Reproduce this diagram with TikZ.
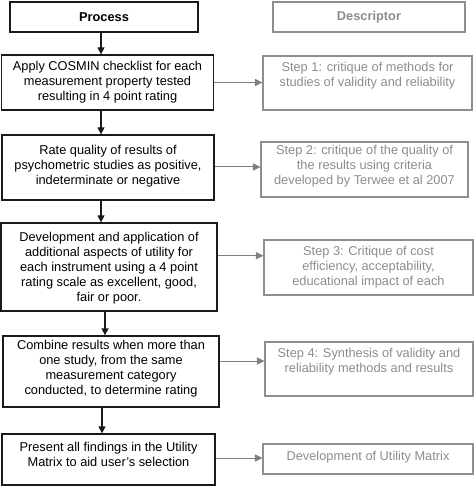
\documentclass[tikz,border=0pt]{standalone}
\usepackage{fontspec}
\setmainfont{Liberation Sans}
\usetikzlibrary{arrows.meta,calc}
\definecolor{boxblack}{HTML}{1A1A1A}
\definecolor{boxgray}{HTML}{8E8E8E}
\definecolor{textgray}{HTML}{8C8C8C}
\definecolor{arrowgray}{HTML}{7F7F7F}
\begin{document}
\begin{tikzpicture}[x=1pt,y=-1pt,
  lbox/.style={draw=boxblack,line width=1.3pt,rectangle,inner sep=0pt},
  rbox/.style={draw=boxgray,line width=1.1pt,rectangle,inner sep=0pt},
  ltext/.style={align=center,inner sep=0pt,text=black,font=\fontsize{12.8}{15}\selectfont},
  rtext/.style={align=center,inner sep=0pt,text=textgray,font=\fontsize{12.8}{15}\selectfont},
  varrow/.style={draw=boxblack,line width=1.3pt,-{Triangle[length=7pt,width=7pt]}},
  harrow/.style={draw=arrowgray,line width=1pt,-{Triangle[length=7.5pt,width=7pt]}}]
\useasboundingbox (0,0) rectangle (474,486);
% left column boxes
\node[lbox,minimum width=188pt,minimum height=30pt] (P) at (104,17) {};
\node[lbox,minimum width=212pt,minimum height=55pt] (b1) at (107.5,82.5) {};
\node[lbox,minimum width=212pt,minimum height=65pt] (b2) at (108,167.5) {};
\node[lbox,minimum width=216pt,minimum height=88pt] (b3) at (109,267) {};
\node[lbox,minimum width=216pt,minimum height=71pt] (b4) at (111,371.5) {};
\node[lbox,minimum width=213pt,minimum height=51pt] (b5) at (108.5,459.5) {};
% right column boxes
\node[rbox,minimum width=192pt,minimum height=30pt] (D) at (369,17) {};
\node[rbox,minimum width=209pt,minimum height=54pt] (s1) at (367.5,83) {};
\node[rbox,minimum width=207pt,minimum height=55pt] (s2) at (364.5,169.5) {};
\node[rbox,minimum width=209pt,minimum height=55pt] (s3) at (368.5,267.5) {};
\node[rbox,minimum width=208pt,minimum height=54pt] (s4) at (369,369) {};
\node[rbox,minimum width=210pt,minimum height=30pt] (s5) at (368,459) {};
% texts
\node[ltext,font=\fontsize{12.8}{15}\selectfont\bfseries] (Pt) at (P.center) {Process};
\node[ltext] (b1t) at (b1.center) {Apply COSMIN checklist for each\\measurement property tested\\resulting in 4 point rating};
\node[ltext] (b2t) at ([yshift=1.5pt]b2.center) {Rate quality of results of\\psychometric studies as positive,\\indeterminate or negative};
\node[ltext] (b3t) at ([yshift=-1pt]b3.center) {Development and application of\\additional aspects of utility for\\each instrument using a 4 point\\rating scale as excellent, good,\\fair or poor.};
\node[ltext] (b4t) at ([yshift=3pt]b4.center) {Combine results when more than\\one study, from the same\\measurement category\\conducted, to determine rating};
\node[ltext] (b5t) at ([yshift=4.8pt]b5.center) {Present all findings in the Utility\\Matrix to aid user{\char"27}s selection};
\node[rtext,font=\fontsize{12.8}{15}\selectfont\bfseries] (Dt) at (D.center) {Descriptor};
\node[rtext] (s1t) at ([yshift=7pt]s1.center) {Step 1: critique of methods for\\studies of validity and reliability};
\node[rtext] (s2t) at ([yshift=3.5pt]s2.center) {Step 2: critique of the quality of\\the results using criteria\\developed by Terwee et al 2007};
\node[rtext] (s3t) at (s3.center) {Step 3: Critique of cost\\efficiency, acceptability,\\educational impact of each};
\node[rtext] (s4t) at ([yshift=7pt]s4.center) {Step 4: Synthesis of validity and\\reliability methods and results};
\node[rtext] (s5t) at ([yshift=2pt]s5.center) {Development of Utility Matrix};
% vertical arrows
\draw[varrow] ([xshift=-3pt]P.south) -- ([xshift=-3pt]P.south |- b1.north);
\draw[varrow] ([xshift=-6.5pt]b1.south) -- ([xshift=-6.5pt]b1.south |- b2.north);
\draw[varrow] ([xshift=-7pt]b2.south) -- ([xshift=-7pt]b2.south |- b3.north);
\draw[varrow] ([xshift=-4pt]b3.south) -- ([xshift=-4pt]b3.south |- b4.north);
\draw[varrow] ([xshift=-9pt]b4.south) -- ([xshift=-9pt]b4.south |- b5.north);
% horizontal arrows
\draw[harrow] (b1.east) -- (b1.east -| s1.west);
\draw[harrow] ([yshift=0.5pt]b2.east) -- ([yshift=0.5pt]b2.east -| s2.west);
\draw[harrow] ([yshift=11.3pt]b3.east) -- ([yshift=11.3pt]b3.east -| s3.west);
\draw[harrow] ([yshift=10.5pt]b4.east) -- ([yshift=10.5pt]b4.east -| s4.west);
\draw[harrow] ([yshift=1.5pt]b5.east) -- ([yshift=1.5pt]b5.east -| s5.west);
\end{tikzpicture}
\end{document}
